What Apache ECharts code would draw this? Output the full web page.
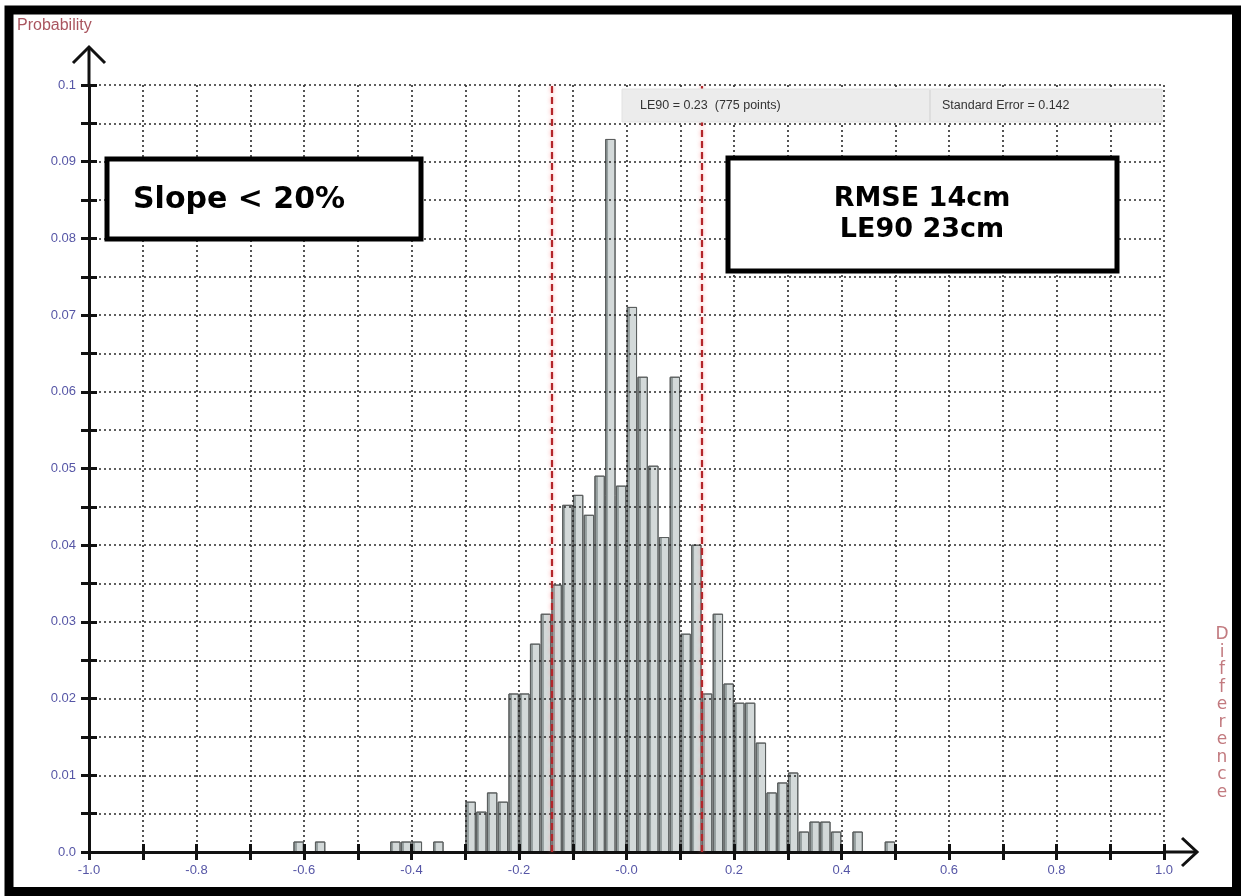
<!DOCTYPE html>
<html>
<head>
<meta charset="utf-8">
<script src="https://cdn.jsdelivr.net/npm/echarts@6/dist/echarts.min.js"></script>
<style>
  html, body { margin: 0; padding: 0; background: #fff; }
  #chart { width: 1241px; height: 896px; }
</style>
</head>
<body>
<div id="chart"></div>
<script>
// histogram bins (centre of each 0.02 wide bin) and probability
const binCenters = [-0.61, -0.57, -0.43, -0.41, -0.39, -0.35,
  -0.29, -0.27, -0.25, -0.23, -0.21, -0.19, -0.17, -0.15, -0.13, -0.11,
  -0.09, -0.07, -0.05, -0.03, -0.01, 0.01, 0.03, 0.05, 0.07, 0.09,
  0.11, 0.13, 0.15, 0.17, 0.19, 0.21, 0.23, 0.25, 0.27, 0.29, 0.31,
  0.33, 0.35, 0.37, 0.39, 0.43, 0.49];
const probability = [0.0013, 0.0013, 0.0013, 0.0013, 0.0013, 0.0013,
  0.0065, 0.0052, 0.0077, 0.0065, 0.0206, 0.0206, 0.0271, 0.031, 0.0348, 0.0452,
  0.0465, 0.0439, 0.049, 0.0929, 0.0477, 0.071, 0.0619, 0.0503, 0.041, 0.0619,
  0.0284, 0.040, 0.0206, 0.031, 0.0219, 0.0194, 0.0194, 0.0142, 0.0077, 0.009, 0.0103,
  0.0026, 0.0039, 0.0039, 0.0026, 0.0026, 0.0013];
const binWidth = 0.02;
const le90Bounds = [-0.141, 0.141];

const xTickLabels = ['-1.0', '-0.8', '-0.6', '-0.4', '-0.2', '-0.0', '0.2', '0.4', '0.6', '0.8', '1.0'];
const yTickLabels = ['0.0', '0.01', '0.02', '0.03', '0.04', '0.05', '0.06', '0.07', '0.08', '0.09', '0.1'];

const labelColor = '#5656a6';
const titleColor = '#a9555f';

const chart = echarts.init(document.getElementById('chart'));

const barData = binCenters.map((x, i) => [x, probability[i]]);

const gridLine = {show: true, lineStyle: {color: '#2a2a2a', width: 1.6, type: [2, 3]}};
const tickStyle = {color: '#111', width: 3};

const option = {
    animation: false,
    backgroundColor: '#fff',
    grid: {left: 89, right: 77, top: 85, bottom: 44},
    xAxis: [{
        type: 'value', min: -1, max: 1, interval: 0.1, position: 'bottom', z: 3,
        axisLine: {show: true, onZero: false, lineStyle: {color: '#111', width: 3}},
        axisTick: {show: true, length: 8, lineStyle: tickStyle},
        axisLabel: {
            margin: 12, color: labelColor, fontSize: 13, fontFamily: 'Liberation Sans',
            formatter: v => {
                const idx = Math.round((v + 1) / 0.1);
                return idx % 2 === 0 ? xTickLabels[idx / 2] : '';
            }
        },
        splitLine: gridLine
    }, {
        type: 'value', min: -1, max: 1, interval: 0.1, position: 'bottom', z: 3,
        axisLine: {show: false, onZero: false},
        axisTick: {show: true, inside: true, length: 8, lineStyle: tickStyle},
        axisLabel: {show: false},
        splitLine: {show: false}
    }],
    yAxis: [{
        type: 'value', min: 0, max: 0.1, interval: 0.005, position: 'left', z: 3,
        axisLine: {show: true, onZero: false, lineStyle: {color: '#111', width: 3}},
        axisTick: {show: true, length: 8, lineStyle: tickStyle},
        axisLabel: {
            margin: 13, color: labelColor, fontSize: 13, fontFamily: 'Liberation Sans',
            formatter: v => {
                const idx = Math.round(v / 0.005);
                return idx % 2 === 0 ? yTickLabels[idx / 2] : '';
            }
        },
        splitLine: gridLine
    }, {
        type: 'value', min: 0, max: 0.1, interval: 0.005, position: 'left', z: 3,
        axisLine: {show: false, onZero: false},
        axisTick: {show: true, inside: true, length: 8, lineStyle: tickStyle},
        axisLabel: {show: false},
        splitLine: {show: false}
    }],
    series: [{
        type: 'custom',
        xAxisIndex: 0, yAxisIndex: 0,
        z: 2,
        data: barData,
        renderItem: (params, api) => {
            const x = api.value(0), y = api.value(1);
            const p0 = api.coord([x - binWidth / 2, y]);
            const p1 = api.coord([x + binWidth / 2, 0]);
            const gap = 0.7;
            return {
                type: 'rect',
                shape: {x: p0[0] + gap, y: p0[1], width: p1[0] - p0[0] - 2 * gap, height: p1[1] - p0[1]},
                style: {
                    fill: new echarts.graphic.LinearGradient(0, 0, 1, 0, [
                        {offset: 0, color: '#8e9797'},
                        {offset: 0.3, color: '#9aa3a3'},
                        {offset: 0.32, color: '#d3d9d9'},
                        {offset: 1, color: '#d3d9d9'}
                    ]),
                    stroke: '#5b5f5f',
                    lineWidth: 1
                }
            };
        }
    }, {
        // LE90 limits
        type: 'line',
        xAxisIndex: 0, yAxisIndex: 0,
        data: [],
        z: 6,
        markLine: {
            silent: true,
            symbol: ['none', 'none'],
            label: {show: false},
            lineStyle: {color: '#b3262a', width: 2.2, type: [7, 4], shadowColor: 'rgba(255,120,120,0.7)', shadowBlur: 4},
            data: le90Bounds.map(v => ({xAxis: v}))
        }
    }]
};
chart.setOption(option);

// axis extensions with open arrow heads, frame, annotations
const xEnd = chart.convertToPixel({xAxisIndex: 0, yAxisIndex: 0}, [1, 0]);
const yEnd = chart.convertToPixel({xAxisIndex: 0, yAxisIndex: 0}, [-1, 0.1]);
const xTip = [xEnd[0] + 33, xEnd[1]];
const yTip = [yEnd[0], yEnd[1] - 38];
const axisStyle = {stroke: '#111', lineWidth: 3, fill: null};

chart.setOption({
    graphic: [
        {type: 'polyline', z: 20, shape: {points: [xEnd, xTip]}, style: axisStyle},
        {type: 'polyline', z: 20, shape: {points: [[xTip[0] - 15, xTip[1] - 14], xTip, [xTip[0] - 15, xTip[1] + 14]]}, style: axisStyle},
        {type: 'polyline', z: 20, shape: {points: [yEnd, yTip]}, style: axisStyle},
        {type: 'polyline', z: 20, shape: {points: [[yTip[0] - 16, yTip[1] + 16], yTip, [yTip[0] + 16, yTip[1] + 16]]}, style: axisStyle},
        // outer frame
        {type: 'rect', z: 30, shape: {x: 9, y: 10, width: 1227.5, height: 881.5}, style: {fill: null, stroke: '#000', lineWidth: 9}},
        // axis names
        {type: 'text', z: 20, left: 17, top: 18, style: {text: 'Probability', fill: titleColor, font: '16px "Liberation Sans"'}},
        {type: 'text', z: 20, x: 1222, y: 626, style: {text: 'Difference'.split('').join('\n'), fill: '#c27a7f', font: '17px "DejaVu Sans"', align: 'center', lineHeight: 17.5}},
        // statistics band
        {type: 'rect', z: 15, shape: {x: 622, y: 89, width: 540, height: 33}, style: {fill: '#ececec', stroke: '#e2e2e2', lineWidth: 1}},
        {type: 'line', z: 16, shape: {x1: 930, y1: 90, x2: 930, y2: 121}, style: {stroke: '#cfcfcf', lineWidth: 1}},
        {type: 'text', z: 16, x: 640, y: 106, style: {text: 'LE90 = 0.23  (775 points)', fill: '#333', font: '12.5px "Liberation Sans"', verticalAlign: 'middle'}},
        {type: 'text', z: 16, x: 942, y: 106, style: {text: 'Standard Error = 0.142', fill: '#333', font: '12.5px "Liberation Sans"', verticalAlign: 'middle'}},
        // annotation boxes
        {type: 'rect', z: 25, shape: {x: 107, y: 159, width: 314, height: 80}, style: {fill: '#fff', stroke: '#000', lineWidth: 5}},
        {type: 'text', z: 26, x: 133, y: 200, style: {text: 'Slope < 20%', fill: '#000', font: 'bold 30px "DejaVu Sans"', verticalAlign: 'middle'}},
        {type: 'rect', z: 25, shape: {x: 728, y: 158, width: 389, height: 113}, style: {fill: '#fff', stroke: '#000', lineWidth: 5}},
        {type: 'text', z: 26, x: 922, y: 199, style: {text: 'RMSE 14cm', fill: '#000', font: 'bold 27px "DejaVu Sans"', align: 'center', verticalAlign: 'middle'}},
        {type: 'text', z: 26, x: 922, y: 230, style: {text: 'LE90 23cm', fill: '#000', font: 'bold 27px "DejaVu Sans"', align: 'center', verticalAlign: 'middle'}}
    ]
});
</script>
</body>
</html>
